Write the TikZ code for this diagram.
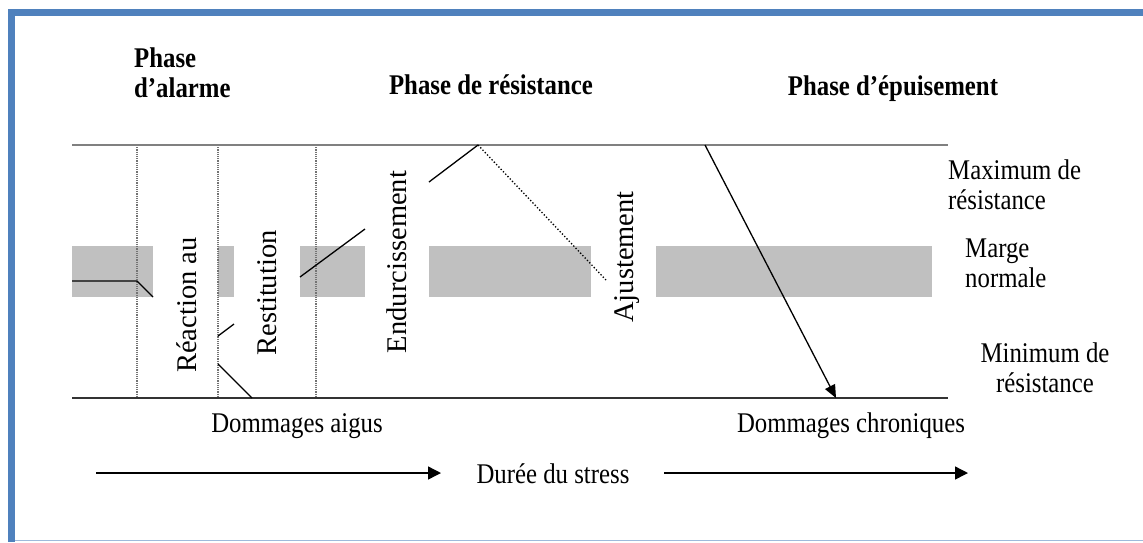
\documentclass[tikz,border=0pt]{standalone}
\usepackage{fontspec}
\setmainfont{Liberation Serif}[FakeStretch=0.87]
\newfontfamily\plainserif{Liberation Serif}
\usepackage{tikz}
\usetikzlibrary{
  arrows.meta,
  calc
}
\definecolor{frameblue}{RGB}{79,129,189}
\definecolor{bandgray}{RGB}{192,192,192}
\definecolor{limitgray}{RGB}{128,128,128}
\tikzset{
  lbl/.style={inner sep=0pt, font=\fontsize{28.5}{30}\selectfont},
  phase/.style={lbl, font=\fontsize{28.5}{30}\selectfont\bfseries},
  vlbl/.style={inner sep=0pt, rotate=90, anchor=base,
    font=\plainserif\fontsize{28.5}{30}\selectfont},
  band/.style={fill=bandgray, draw=none},
  guide/.style={densely dotted, line width=1.2pt, color=black!55},
  maxline/.style={line width=1.6pt, color=limitgray},
  minline/.style={line width=1.3pt, color=black!80},
  curve/.style={line width=1.3pt, color=black},
  timearrow/.style={-{Triangle[length=13pt,width=13pt]}, line width=1.4pt}
}

\begin{document}
\begin{tikzpicture}[x=1pt, y=-1pt]
\useasboundingbox (0,0) rectangle (1143,542);

% frame
\fill[frameblue] (8,9) rectangle (1143,16);
\fill[frameblue] (8,9) rectangle (15,542);
\draw[frameblue!55, line width=1pt] (15,540.5) -- (1143,540.5);

% limits
\coordinate (maxL) at (72,145);
\coordinate (maxR) at (948,145);
\coordinate (minL) at (72,398);
\coordinate (minR) at (948,398);

% normal margin
\foreach \a/\b in {72/153, 218/234, 300/365, 429/591, 656/932}
  \fill[band] (\a,246) rectangle (\b,297);

\foreach \x in {137,218,316}
  \draw[guide] (\x,145) -- (\x,398);

\draw[maxline] (maxL) -- (maxR);
\draw[minline] (minL) -- (minR);

% resistance curve
\coordinate (peak) at (478,145);
\draw[curve] (72,281) -- (137,281) -- (153,297);
\draw[curve] (218,336) -- (234,324);
\draw[curve] (218,364) -- (252,398);
\draw[curve] (300,277) -- (365,229);
\draw[curve] (429,182) -- (peak);
\draw[curve, dotted] (peak) -- (606,280);
\draw[curve, -{Triangle[length=13pt,width=11pt]}] (705,145) -- (836,398);

% phases
\node[phase, anchor=base west, align=left] (alarme) at (134,97)
  {Phase\\d’alarme};
\node[phase, anchor=base] (resist) at (491,94) {Phase de résistance};
\node[phase, anchor=base] (epuis) at (893,95) {Phase d’épuisement};

% levels
\node[lbl, anchor=base west, align=left] (maxlbl) at (948,209)
  {Maximum de\\résistance};
\node[lbl, anchor=base west, align=left] (marge) at (965,287)
  {Marge\\normale};
\node[lbl, anchor=base, align=center] (minlbl) at (1045,392)
  {Minimum de\\résistance};

% steps
\node[vlbl] (reaction) at (196,305) {Réaction au};
\node[vlbl] (restit) at (276,293) {Restitution};
\node[vlbl] (endurc) at (406,262) {Endurcissement};
\node[vlbl] (ajust) at (633,257) {Ajustement};

% damages and time
\node[lbl, anchor=base] (aigus) at (297,432) {Dommages aigus};
\node[lbl, anchor=base] (chron) at (851,432) {Dommages chroniques};
\node[lbl, anchor=base] (duree) at (553,483) {Durée du stress};

\coordinate (t0) at (96,473);
\coordinate (t1) at (441,473);
\coordinate (t2) at (664,473);
\coordinate (t3) at (968,473);
\draw[timearrow] (t0) -- (t1);
\draw[timearrow] (t2) -- (t3);
\end{tikzpicture}
\end{document}
